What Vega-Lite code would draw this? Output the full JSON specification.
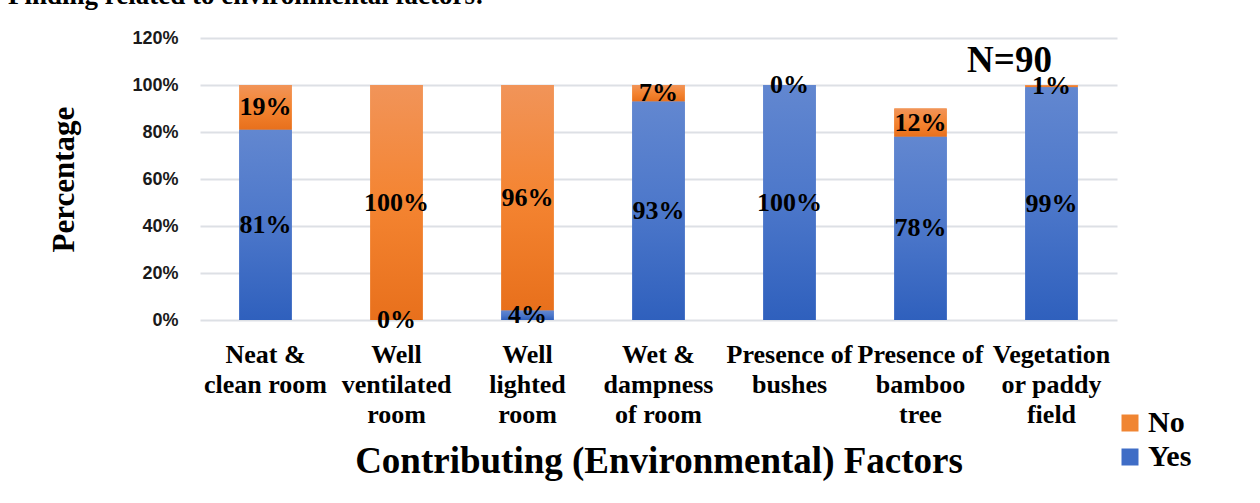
{
  "$schema": "https://vega.github.io/schema/vega-lite/v6.json",
  "width": 917,
  "height": 282,
  "autosize": {"type": "none"},
  "padding": {"left": 200, "top": 38, "right": 143, "bottom": 183},
  "background": "white",
  "title": {
    "text": "Finding related to environmental factors:",
    "anchor": "start",
    "frame": "group",
    "dx": -192,
    "dy": 2,
    "offset": 0,
    "baseline": "alphabetic",
    "font": "Liberation Serif",
    "fontSize": 27,
    "fontWeight": "bold",
    "color": "black"
  },
  "config": {
    "view": {"stroke": null}
  },
  "data": {
    "values": [
      {"factor": "Neat &|clean room", "answer": "Yes", "share": 0.81},
      {"factor": "Neat &|clean room", "answer": "No", "share": 0.19},
      {"factor": "Well|ventilated|room", "answer": "Yes", "share": 0.0},
      {"factor": "Well|ventilated|room", "answer": "No", "share": 1.0},
      {"factor": "Well|lighted|room", "answer": "Yes", "share": 0.04},
      {"factor": "Well|lighted|room", "answer": "No", "share": 0.96},
      {"factor": "Wet &|dampness|of room", "answer": "Yes", "share": 0.93},
      {"factor": "Wet &|dampness|of room", "answer": "No", "share": 0.07},
      {"factor": "Presence of|bushes", "answer": "Yes", "share": 1.0},
      {"factor": "Presence of|bushes", "answer": "No", "share": 0.0},
      {"factor": "Presence of|bamboo|tree", "answer": "Yes", "share": 0.78},
      {"factor": "Presence of|bamboo|tree", "answer": "No", "share": 0.12},
      {"factor": "Vegetation|or paddy|field", "answer": "Yes", "share": 0.99},
      {"factor": "Vegetation|or paddy|field", "answer": "No", "share": 0.01}
    ]
  },
  "encoding": {
    "x": {
      "field": "factor",
      "type": "nominal",
      "sort": null,
      "scale": {"paddingInner": 0.6, "paddingOuter": 0.3},
      "axis": {
        "title": "Contributing (Environmental) Factors",
        "titleFont": "Liberation Serif",
        "titleFontSize": 37,
        "titleFontWeight": "bold",
        "titleColor": "black",
        "titleBaseline": "alphabetic",
        "titleX": 458.5,
        "titleY": 152,
        "labelExpr": "split(datum.label, '|')",
        "labelAngle": 0,
        "labelFont": "Liberation Serif",
        "labelFontSize": 26,
        "labelFontWeight": "bold",
        "labelColor": "black",
        "labelLineHeight": 30,
        "labelPadding": 21,
        "labelBaseline": "top",
        "labelOverlap": false,
        "labelBound": false,
        "labelFlush": false,
        "labelLimit": 0,
        "ticks": false,
        "domain": false
      }
    }
  },
  "layer": [
    {
      "transform": [
        {"stack": "share", "groupby": ["factor"], "sort": [{"field": "answer", "order": "descending"}], "as": ["lo", "hi"]}
      ],
      "encoding": {
        "y": {
          "field": "lo",
          "type": "quantitative",
          "scale": {"domain": [0, 1.2], "nice": false},
          "axis": {
            "title": "Percentage",
            "titleFont": "Liberation Serif",
            "titleFontSize": 31,
            "titleFontWeight": "bold",
            "titleColor": "black",
            "titleAngle": 270,
            "titleBaseline": "alphabetic",
            "titleX": -127,
            "titleY": 141,
            "values": [0, 0.2, 0.4, 0.6, 0.8, 1.0, 1.2],
            "format": ".0%",
            "labelFont": "Liberation Sans",
            "labelFontSize": 18,
            "labelFontWeight": "bold",
            "labelColor": "#1a1a1a",
            "labelPadding": 22,
            "ticks": false,
            "domain": false,
            "grid": true,
            "gridColor": "#DDE0E5",
            "gridWidth": 2
          }
        },
        "y2": {"field": "hi"}
      },
      "layer": [
        {
          "mark": {"type": "bar"},
          "encoding": {
            "color": {
              "field": "answer",
              "type": "nominal",
              "scale": {"domain": ["No", "Yes"], "range": ["#F08532", "#3F6DC6"]},
              "legend": {
                "title": null,
                "orient": "none",
                "legendX": 915,
                "legendY": 370,
                "padding": 0,
                "symbolType": "square",
                "symbolSize": 289,
                "symbolStrokeWidth": 0,
                "labelFont": "Liberation Serif",
                "labelFontSize": 30,
                "labelFontWeight": "bold",
                "labelColor": "black",
                "labelOffset": 3,
                "rowPadding": 4
              }
            }
          }
        },
        {
          "transform": [{"filter": "datum.answer === 'No'"}],
          "mark": {
            "type": "bar",
            "color": {"gradient": "linear", "x1": 0, "y1": 0, "x2": 0, "y2": 1,
              "stops": [{"offset": 0, "color": "#F19459"}, {"offset": 0.5, "color": "#F48431"}, {"offset": 1, "color": "#E8701C"}]}
          }
        },
        {
          "transform": [{"filter": "datum.answer === 'Yes'"}],
          "mark": {
            "type": "bar",
            "color": {"gradient": "linear", "x1": 0, "y1": 0, "x2": 0, "y2": 1,
              "stops": [{"offset": 0, "color": "#6287D0"}, {"offset": 0.5, "color": "#4C77CA"}, {"offset": 1, "color": "#2F60BD"}]}
          }
        },
        {
          "transform": [{"calculate": "(datum.lo + datum.hi) / 2", "as": "mid"}],
          "mark": {
            "type": "text",
            "font": "Liberation Serif",
            "fontSize": 26,
            "fontWeight": "bold",
            "color": "black",
            "baseline": "middle",
            "align": "center"
          },
          "encoding": {
            "y": {"field": "mid", "type": "quantitative"},
            "y2": null,
            "text": {"field": "share", "type": "quantitative", "format": ".0%"}
          }
        }
      ]
    },
    {
      "data": {"values": [{"note": "N=90"}]},
      "mark": {
        "type": "text",
        "font": "Liberation Serif",
        "fontSize": 37,
        "fontWeight": "bold",
        "color": "black",
        "baseline": "alphabetic",
        "align": "center",
        "dx": -42
      },
      "encoding": {
        "x": {"datum": "Vegetation|or paddy|field"},
        "y": {"datum": 1.055},
        "text": {"field": "note"}
      }
    }
  ]
}
